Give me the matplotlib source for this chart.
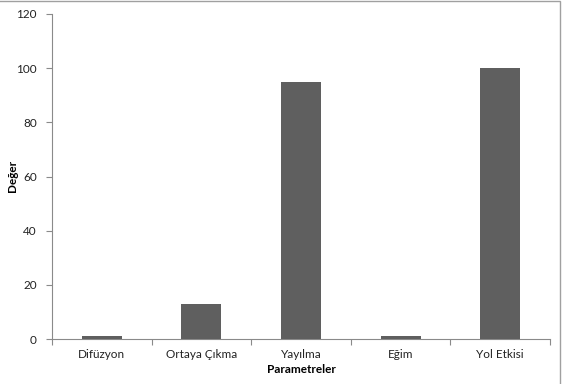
import matplotlib
matplotlib.use("Agg")
import matplotlib.pyplot as plt
from matplotlib.patches import Rectangle
import numpy as np

categories = ["Difüzyon", "Ortaya Çıkma", "Yayılma", "Eğim", "Yol Etkisi"]
values = [1, 13, 95, 1, 100]
y_ticks = [0, 20, 40, 60, 80, 100, 120]

plt.rcParams["font.family"] = ["Lato", "DejaVu Sans"]

fig = plt.figure(figsize=(5.63, 3.84), dpi=100)
ax = fig.add_axes([52 / 563, 1 - 339 / 384, (550 - 52) / 563, (339 - 14) / 384])

x = np.arange(len(categories))
ax.bar(x, values, width=0.4, color="#5f5f5f", edgecolor="none", zorder=3)

ax.set_xlim(-0.5, len(categories) - 0.5)
ax.set_ylim(0, 120)
ax.set_yticks(y_ticks)
ax.set_yticklabels([str(v) for v in y_ticks], fontsize=8.5, color="#222222")

# category labels centred, tick marks on category boundaries
ax.set_xticks(x)
ax.set_xticklabels(categories, fontsize=8.5, color="#222222")
ax.tick_params(axis="x", which="major", length=0, pad=7)
ax.set_xticks(np.arange(-0.5, len(categories)), minor=True)
ax.tick_params(axis="x", which="minor", length=4, color="#8a8a8a", width=0.8)
ax.tick_params(axis="y", length=4, color="#8a8a8a", width=0.8, pad=7)

for side in ["top", "right"]:
    ax.spines[side].set_visible(False)
for side in ["left", "bottom"]:
    ax.spines[side].set_color("#8a8a8a")
    ax.spines[side].set_linewidth(0.8)

ax.set_xlabel("Parametreler", fontsize=8.5, fontweight="bold", labelpad=3)
ax.set_ylabel("Değer", fontsize=8.5, fontweight="bold")
ax.yaxis.set_label_coords(18 / 563, 1 - 176 / 384, transform=fig.transFigure)

# thin frame around the chart area
fig.patches.append(Rectangle((-0.01, -0.01), 1 - 3.5 / 563 + 0.01, 1 - 1.5 / 384 + 0.01,
                             transform=fig.transFigure, fill=False,
                             edgecolor="#a0a0a0", linewidth=1.0))

fig.savefig("out.png", dpi=100)
